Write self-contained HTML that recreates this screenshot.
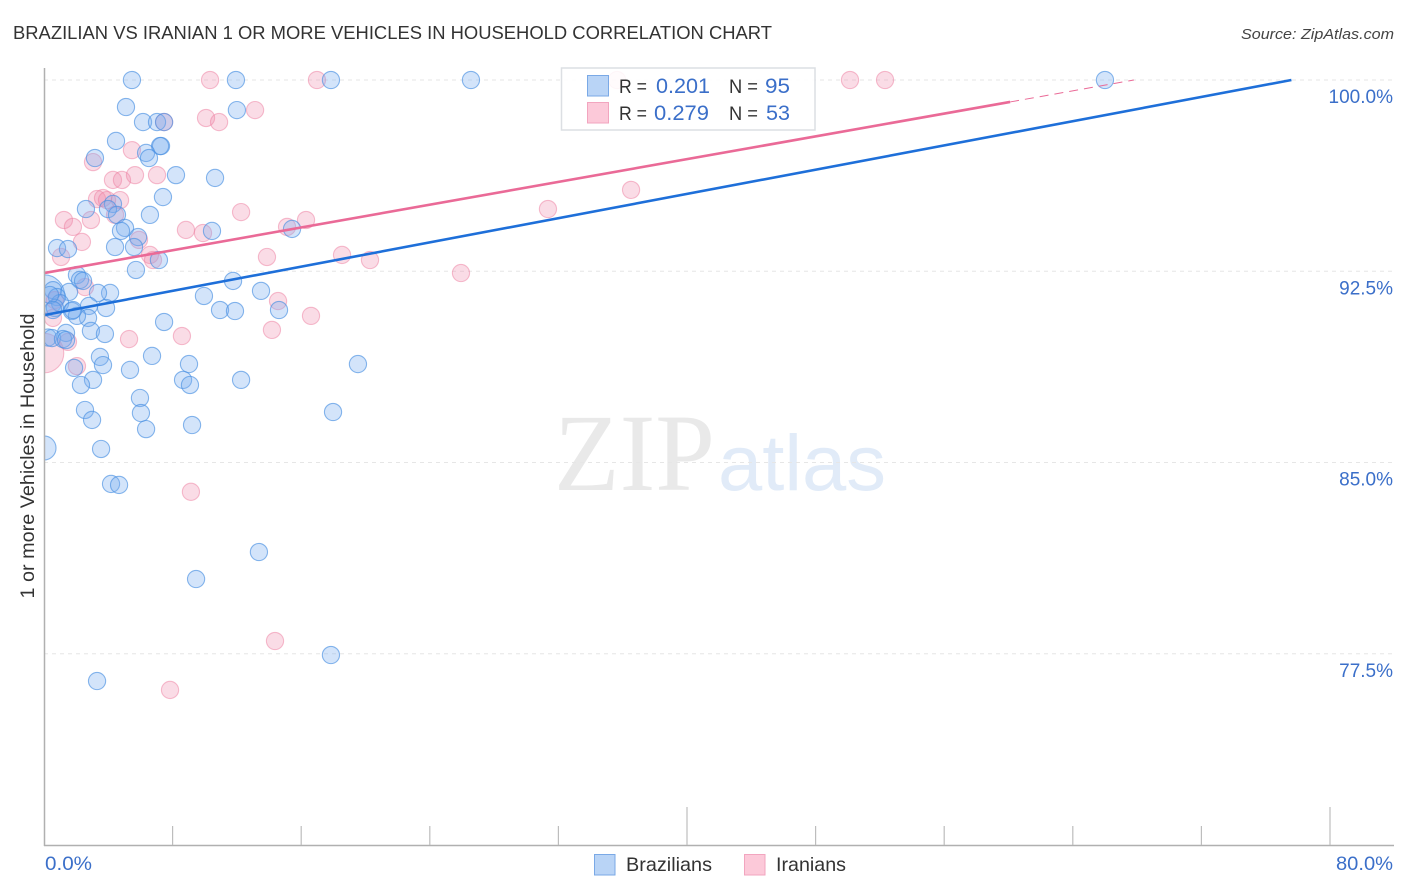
<!DOCTYPE html>
<html>
<head>
<meta charset="utf-8">
<title>Brazilian vs Iranian correlation chart</title>
<style>
html,body{margin:0;padding:0;background:#fff;width:1406px;height:892px;overflow:hidden}
svg{display:block}
text{font-family:"Liberation Sans",sans-serif}
</style>
</head>
<body>
<svg id="chart" width="1406" height="892" viewBox="0 0 1406 892" xmlns="http://www.w3.org/2000/svg">
<defs><clipPath id="plot-clip"><rect x="44" y="60" width="1350" height="785"/></clipPath></defs>
<rect x="0" y="0" width="1406" height="892" fill="#fff"/>
<text x="13" y="39" font-size="18.5" fill="#333" textLength="759" lengthAdjust="spacingAndGlyphs">BRAZILIAN VS IRANIAN 1 OR MORE VEHICLES IN HOUSEHOLD CORRELATION CHART</text>
<text x="1394" y="39" font-size="15" font-style="italic" fill="#444" text-anchor="end" textLength="153" lengthAdjust="spacingAndGlyphs">Source: ZipAtlas.com</text>
<g>
<text x="554" y="490" style="font-family:'Liberation Serif',serif" font-size="110" fill="#e9e9e9" textLength="161" lengthAdjust="spacingAndGlyphs">ZIP</text>
<text x="718" y="490" style="font-family:'Liberation Sans',sans-serif" font-size="79" fill="#e1ebf8" textLength="168" lengthAdjust="spacingAndGlyphs">atlas</text>
</g>
<g id="grid"></g>
<g id="points" clip-path="url(#plot-clip)"></g>
<g id="trends"></g>
<g id="axes"></g>
<text transform="translate(34,456) rotate(-90)" font-size="19.5" fill="#333" text-anchor="middle" textLength="285" lengthAdjust="spacingAndGlyphs">1 or more Vehicles in Household</text>
<g>
<rect x="561.5" y="68" width="253.5" height="62" fill="#fff" fill-opacity="0.88" stroke="#dcdfe3" stroke-width="1.5"/>
<rect x="587.5" y="75.5" width="21" height="20.5" fill="#b9d4f6" stroke="#7aa9e6" stroke-width="1"/>
<rect x="587.5" y="102.5" width="21" height="20.5" fill="#fcc9d9" stroke="#f2a5bf" stroke-width="1"/>
<text x="619" y="93" font-size="19.5" fill="#333" textLength="28" lengthAdjust="spacingAndGlyphs">R =</text>
<text x="656" y="93" font-size="21" fill="#3b6fc9" textLength="54" lengthAdjust="spacingAndGlyphs">0.201</text>
<text x="729" y="93" font-size="19.5" fill="#333" textLength="29" lengthAdjust="spacingAndGlyphs">N =</text>
<text x="765" y="93" font-size="21" fill="#3b6fc9" textLength="25" lengthAdjust="spacingAndGlyphs">95</text>
<text x="619" y="120" font-size="19.5" fill="#333" textLength="28" lengthAdjust="spacingAndGlyphs">R =</text>
<text x="654" y="120" font-size="21" fill="#3b6fc9" textLength="55" lengthAdjust="spacingAndGlyphs">0.279</text>
<text x="729" y="120" font-size="19.5" fill="#333" textLength="29" lengthAdjust="spacingAndGlyphs">N =</text>
<text x="766" y="120" font-size="21" fill="#3b6fc9" textLength="24" lengthAdjust="spacingAndGlyphs">53</text>
</g>
<g>
<rect x="594.5" y="854.5" width="20.5" height="20.5" fill="#b9d4f6" stroke="#7aa9e6" stroke-width="1"/>
<text x="626" y="871" font-size="19.5" fill="#333" textLength="86" lengthAdjust="spacingAndGlyphs">Brazilians</text>
<rect x="744.5" y="854.5" width="20.5" height="20.5" fill="#fcc9d9" stroke="#f2a5bf" stroke-width="1"/>
<text x="776" y="871" font-size="19.5" fill="#333" textLength="70" lengthAdjust="spacingAndGlyphs">Iranians</text>
</g>
</svg>
<script>
const yTickValues = [100, 92.5, 85, 77.5];
const yTickLabels = ['100.0%', '92.5%', '85.0%', '77.5%'];
const xTickValues = [0, 8, 16, 24, 32, 40, 48, 56, 64, 72, 80];
const xMajorTicks = [40, 80];
const xEdgeLabels = ['0.0%', '80.0%'];

const brazilianX = [5.47,11.94,17.85,26.56,66.0,5.10,12.0,6.16,7.03,7.47,4.48,7.28,7.22,6.35,6.53,3.17,8.21,10.64,7.40,2.61,4.29,3.98,4.54,5.04,4.79,6.59,5.85,10.45,15.43,0.81,1.49,4.42,5.60,7.15,5.72,2.05,2.24,2.43,11.76,13.5,4.11,3.36,9.95,1.56,10.95,11.88,14.62,7.47,3.86,2.80,2.74,2.92,3.79,1.37,0.50,1.18,1.37,0.56,0.81,1.0,0.68,0.37,1.74,2.05,1.80,0.56,3.48,3.67,6.72,9.02,5.35,1.87,3.05,2.30,8.65,9.08,12.26,19.53,5.97,2.55,2.99,6.03,6.35,9.21,17.98,3.55,4.17,4.67,13.37,9.46,17.85,3.30];
const brazilianY = [100,100,100,100,100,98.94,98.82,98.35,98.35,98.35,97.61,97.41,97.41,97.14,96.94,96.94,96.27,96.16,95.41,94.94,95.14,94.94,94.71,94.20,94.08,94.71,93.84,94.08,94.16,93.41,93.37,93.45,93.45,92.94,92.55,92.35,92.16,92.12,92.12,91.73,91.65,91.65,91.53,91.69,90.98,90.94,90.98,90.51,91.06,91.14,90.67,90.16,90.04,90.08,89.88,89.84,89.80,91.76,91.49,91.25,91.06,91.57,90.94,90.75,90.98,90.98,89.14,88.82,89.18,88.86,88.63,88.71,88.24,88.04,88.24,88.04,88.24,88.86,87.53,87.06,86.67,86.94,86.31,86.47,86.98,85.53,84.16,84.12,81.49,80.43,77.45,76.43];
const brazilianLargeX = [0, 0.25, 0];
const brazilianLargeY = [91.55, 89.9, 85.57];
const brazilianLargeWeight = [2.4, 1, 1.4];

const iranianX = [10.33,16.98,50.14,52.32,35.65,10.08,10.89,13.13,7.47,5.47,3.05,4.29,4.85,5.66,7.03,36.52,1.24,1.80,2.92,2.36,3.30,3.67,3.92,4.73,4.42,12.26,8.83,9.89,15.12,16.3,31.35,1.06,5.91,6.59,6.78,13.87,18.54,20.28,25.94,2.55,0.68,0.56,14.56,16.61,14.18,5.29,8.58,1.49,2.05,9.14,14.37,7.84];
const iranianY = [100,100,100,100,100,98.51,98.35,98.82,98.35,97.25,96.78,96.08,96.08,96.27,96.27,95.69,94.51,94.24,94.51,93.65,95.33,95.37,95.29,95.29,94.71,94.82,94.12,94.0,94.24,94.51,94.94,93.06,93.73,93.14,92.94,93.06,93.14,92.94,92.43,91.88,91.37,90.67,91.33,90.75,90.2,89.84,89.96,89.73,88.78,83.85,78.0,76.08];
const iranianLargeX = [0];
const iranianLargeY = [89.29];
const iranianLargeWeight = [2.3];

const brazilianTrendX = [0, 77.6];
const brazilianTrendY = [90.78, 100];
const iranianTrendX = [0, 60.1];
const iranianTrendY = [92.43, 99.14];
const iranianDashX = [60.1, 67.8];
const iranianDashY = [99.14, 100];

function xScale(v) { return 44 + v * 16.075; }
function yScale(v) { return 80 + (100 - v) * 25.5; }
const NS = 'http://www.w3.org/2000/svg';
const gridLayer = document.getElementById('grid');
const pointLayer = document.getElementById('points');
const trendLayer = document.getElementById('trends');
const axisLayer = document.getElementById('axes');
function svgEl(tag, parent, attrs) {
  const el = document.createElementNS(NS, tag);
  for (const k in attrs) el.setAttribute(k, attrs[k]);
  parent.appendChild(el);
  return el;
}

yTickValues.forEach(function (v, i) {
  const line = svgEl('line', gridLayer, {x1: 44, x2: 1394, y1: yScale(v), y2: yScale(v), stroke: '#e6e6e6', 'stroke-width': 1, 'stroke-dasharray': '4 4'});
  
  
  const label = svgEl('text', axisLayer, {x: 1393, y: yScale(v) + 23, 'text-anchor': 'end', 'font-size': 19, fill: '#3b6fc9'});
  label.textContent = yTickLabels[i];
  
  
});

function drawPoints(xs, ys, weights, fill, stroke, fillOp, strokeOp, name) {
  xs.forEach(function (x, i) {
    const c = svgEl('circle', pointLayer, {cx: xScale(x), cy: yScale(ys[i]), r: 8.6 * (weights ? weights[i] : 1), fill: fill, 'fill-opacity': fillOp, stroke: stroke, 'stroke-opacity': strokeOp, 'stroke-width': 1.1});
    
    
  });
}
drawPoints(iranianLargeX, iranianLargeY, iranianLargeWeight, '#f08cab', '#ee7ea0', 0.3, 0.5, 'iranian-point');
drawPoints(brazilianLargeX, brazilianLargeY, brazilianLargeWeight, '#7aaeef', '#4a90e2', 0.33, 0.65, 'brazilian-point');
drawPoints(iranianX, iranianY, null, '#f08cab', '#ee7ea0', 0.3, 0.5, 'iranian-point');
drawPoints(brazilianX, brazilianY, null, '#7aaeef', '#4a90e2', 0.33, 0.65, 'brazilian-point');

function drawTrend(xs, ys, color, width, dash, name) {
  const l = svgEl('line', trendLayer, {x1: xScale(xs[0]), y1: yScale(ys[0]), x2: xScale(xs[1]), y2: yScale(ys[1]), stroke: color, 'stroke-width': width});
  if (dash) l.setAttribute('stroke-dasharray', dash);
  
  
}
drawTrend(brazilianTrendX, brazilianTrendY, '#1e6fd9', 2.6, null, 'brazilian-trend-line');
drawTrend(iranianTrendX, iranianTrendY, '#ea6a97', 2.6, null, 'iranian-trend-line');
drawTrend(iranianDashX, iranianDashY, '#ea6a97', 1, '9 6', 'iranian-trend-extension');

const yAxis = svgEl('line', axisLayer, {x1: 44.5, x2: 44.5, y1: 68, y2: 846, stroke: '#b0b0b0', 'stroke-width': 1.5});


const xAxis = svgEl('line', axisLayer, {x1: 44, x2: 1394, y1: 845.5, y2: 845.5, stroke: '#b0b0b0', 'stroke-width': 1.5});


xTickValues.forEach(function (v) {
  if (v === 0) return;
  const top = xMajorTicks.indexOf(v) >= 0 ? 807 : 826;
  const t = svgEl('line', axisLayer, {x1: xScale(v), x2: xScale(v), y1: top, y2: 845, stroke: '#bdbdbd', 'stroke-width': 1.2});
  
  
});
const xLeft = svgEl('text', axisLayer, {x: 45, y: 870, 'font-size': 19, fill: '#3b6fc9', textLength: 47, lengthAdjust: 'spacingAndGlyphs'});
xLeft.textContent = xEdgeLabels[0];


const xRight = svgEl('text', axisLayer, {x: 1393, y: 870, 'text-anchor': 'end', 'font-size': 19, fill: '#3b6fc9', textLength: 57, lengthAdjust: 'spacingAndGlyphs'});
xRight.textContent = xEdgeLabels[1];


</script>
</body>
</html>
